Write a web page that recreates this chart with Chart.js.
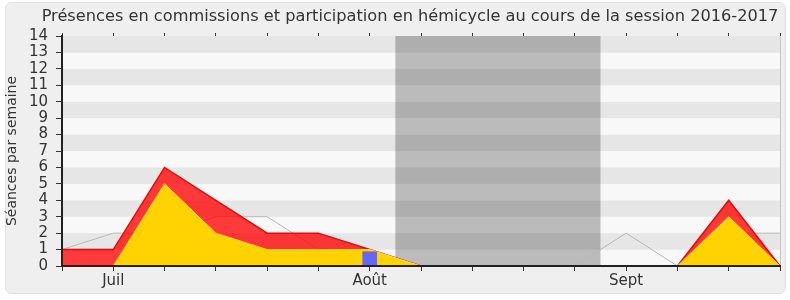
<!DOCTYPE html>
<html lang="fr">
<head>
<meta charset="utf-8">
<script src="https://cdn.jsdelivr.net/npm/chart.js@4.4.0/dist/chart.umd.min.js"></script>
<style>
  html, body { margin: 0; padding: 0; background: #fff; }
  #cadre {
    position: absolute; left: 5px; top: 2px; width: 779px; height: 290px;
    background: #efefef; border: 1px solid #e2e2e2; border-radius: 6px;
  }
  #zone { position: absolute; left: 0; top: 0; width: 790px; height: 300px; }
</style>
</head>
<body>
<div id="cadre"></div>
<div id="zone"><canvas id="graphe" width="790" height="300"></canvas></div>
<script>
// ---------------------------------
// Données (une valeur par semaine)
// ---------------------------------
const semaines   = ['', 'Juil', '', '', '', '', 'Août', '', '', '', '', 'Sept', '', '', ''];
const presences  = [1, 1, 6, 4, 2, 2, 1, 0, 0, 0, 0, 0, 0, 4, 0];
const hemicycle  = [0, 0, 5, 2, 1, 1, 1, 0, 0, 0, 0, 0, 0, 3, 0];
const mediane    = [1, 2, 2, 3, 3, 1, 0, 0, 0, 0, 0, 2, 0, 2, 2];
const questions  = [null, null, null, null, null, null, 0.87, null, null, null, null, null, null, null, null];
const vacances   = [6.5, 10.5];   // début / fin des vacances parlementaires
const maxSeances = 14;

const POLICE = '"DejaVu Sans", Verdana, sans-serif';
const TITRE = 'Présences en commissions et participation en hémicycle au cours de la session 2016-2017';

// bandes grises, vacances, bord droit et titre
const fond = {
  id: 'fond',
  beforeDraw(chart) {
    const {ctx, chartArea: a, scales: {x, y}} = chart;
    ctx.save();
    for (let v = 0; v < maxSeances; v++) {
      ctx.fillStyle = (v % 2 === 1) ? '#e6e6e6' : '#f8f8f8';
      const y1 = y.getPixelForValue(v + 1), y0 = y.getPixelForValue(v);
      ctx.fillRect(a.left, y1, a.right - a.left, y0 - y1);
    }
    const x0 = x.getPixelForValue(vacances[0]), x1 = x.getPixelForValue(vacances[1]);
    ctx.fillStyle = 'rgba(0,0,0,0.245)';
    ctx.fillRect(x0, a.top, x1 - x0, a.bottom - a.top);
    ctx.strokeStyle = '#c4c4c4';
    ctx.lineWidth = 1;
    ctx.beginPath();
    ctx.moveTo(a.right + 0.5, a.top);
    ctx.lineTo(a.right + 0.5, a.bottom);
    ctx.stroke();

    ctx.fillStyle = '#333';
    ctx.font = '16.2px ' + POLICE;
    ctx.textAlign = 'center';
    ctx.textBaseline = 'middle';
    ctx.fillText(TITRE, 410, 17);
    ctx.restore();
  }
};

new Chart(document.getElementById('graphe'), {
  type: 'line',
  data: {
    labels: semaines,
    datasets: [
      {
        type: 'bar', data: questions, order: 0,
        backgroundColor: '#6666ff', barThickness: 14, xAxisID: 'x'
      },
      {
        data: hemicycle, order: 1, fill: 'origin',
        backgroundColor: 'rgba(255,216,0,0.97)', borderColor: '#ffee00', borderWidth: 1,
        pointRadius: 0, tension: 0
      },
      {
        data: presences, order: 2, fill: 'origin',
        backgroundColor: 'rgba(255,0,0,0.77)', borderColor: '#ff0000', borderWidth: 1.5,
        pointRadius: 0, tension: 0
      },
      {
        data: mediane, order: 3, fill: false,
        borderColor: '#b8b8b8', borderWidth: 1,
        pointRadius: 0, tension: 0
      }
    ]
  },
  options: {
    responsive: false,
    animation: false,
    events: [],
    layout: { padding: { top: 33, right: 10, left: 0, bottom: 0 } },
    plugins: { legend: { display: false }, title: { display: false }, tooltip: { enabled: false } },
    scales: {
      x: {
        type: 'category', offset: false, position: 'bottom',
        afterFit: s => { s.height = 34; },
        grid: { drawOnChartArea: false, drawTicks: true, tickLength: 5, color: '#333', offset: false },
        border: { display: true, color: '#222', width: 2, z: 1 },
        ticks: { autoSkip: false, maxRotation: 0, padding: 1, color: '#333', font: { family: POLICE, size: 15 } }
      },
      x2: {
        type: 'category', offset: false, position: 'top', labels: semaines,
        afterFit: s => { s.height = 3; },
        grid: { drawOnChartArea: false, drawTicks: true, tickLength: 3, color: '#333', offset: false },
        border: { display: false },
        ticks: { display: false }
      },
      y: {
        min: 0, max: maxSeances,
        afterFit: s => { s.width = 62; },
        grid: { drawOnChartArea: false, drawTicks: true, tickLength: 6, color: '#333' },
        border: { display: true, color: '#222', width: 2, z: 1 },
        ticks: { stepSize: 1, autoSkip: false, padding: 8, color: '#333', font: { family: POLICE, size: 15 } },
        title: {
          display: true, text: 'Séances par semaine', color: '#333',
          font: { family: POLICE, size: 14 }, padding: { top: 4, bottom: 0 }
        }
      }
    }
  },
  plugins: [fond]
});
</script>
</body>
</html>
